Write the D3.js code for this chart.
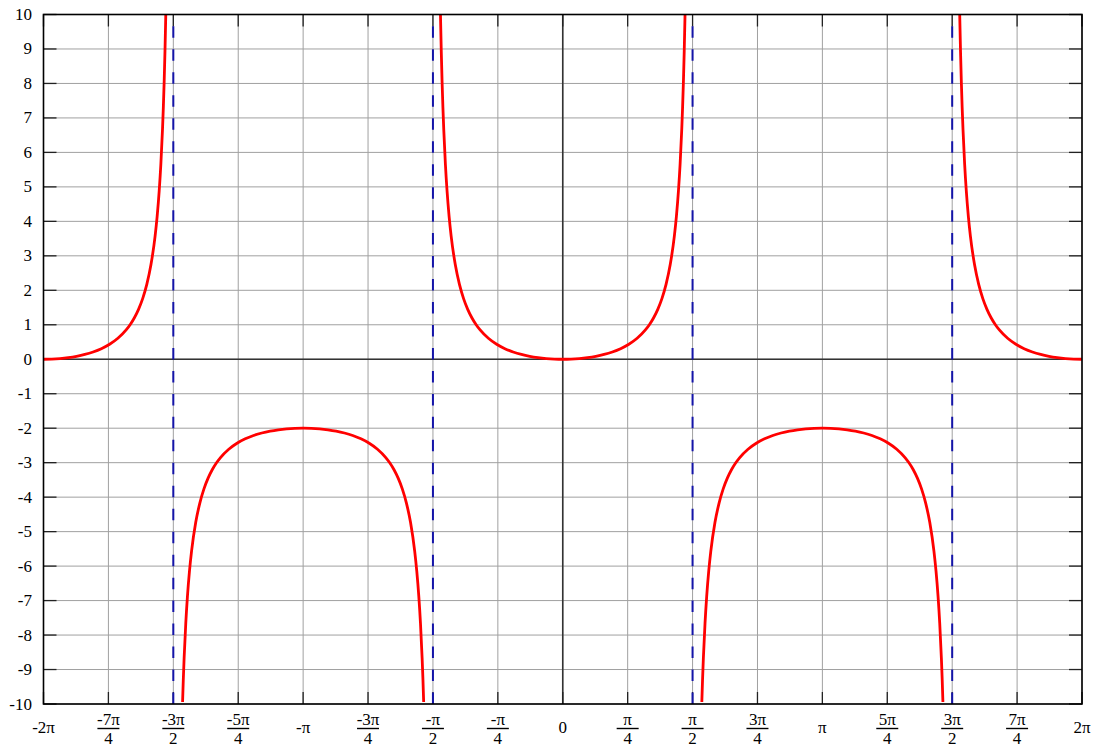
<!DOCTYPE html>
<html>
<head>
<meta charset="utf-8">
<script src="https://cdn.jsdelivr.net/npm/d3@7/dist/d3.min.js"></script>
<style>
  html, body { margin: 0; padding: 0; background: #ffffff; }
  svg { display: block; }
</style>
</head>
<body>
<script>
const PI = Math.PI;
// x tick positions (multiples of pi/4) and their labels [numerator, denominator]
const xTickUnits = [-8, -7, -6, -5, -4, -3, -2, -1, 0, 1, 2, 3, 4, 5, 6, 7, 8]; // in quarters of pi
const xTickLabels = [
  ["-2π", null], ["-7π", "4"], ["-3π", "2"], ["-5π", "4"], ["-π", null], ["-3π", "4"], ["-π", "2"], ["-π", "4"],
  ["0", null], ["π", "4"], ["π", "2"], ["3π", "4"], ["π", null], ["5π", "4"], ["3π", "2"], ["7π", "4"], ["2π", null]
];
const yTicks = [-10, -9, -8, -7, -6, -5, -4, -3, -2, -1, 0, 1, 2, 3, 4, 5, 6, 7, 8, 9, 10];

// Curve samples: offset (radians) from each branch centre
const offsets = [0, 0.1, 0.2, 0.3, 0.4, 0.5, 0.6, 0.7, 0.8, 0.9, 1.0, 1.05, 1.1, 1.15, 1.2, 1.25, 1.3, 1.35, 1.375, 1.4, 1.42, 1.44, 1.45, 1.46, 1.47, 1.48, 1.5];
const upperValues = [0, 0.0050, 0.0203, 0.0468, 0.0857, 0.1395, 0.2116, 0.3075, 0.4353, 0.6087, 0.8508, 1.0098, 1.2046, 1.4481, 1.7597, 2.1714, 2.7383, 3.5661, 4.1401, 4.8835, 5.6567, 6.6673, 7.2986, 8.0441, 8.9379, 10.0289, 13.137];
const lowerValues = [-2, -2.0050, -2.0203, -2.0468, -2.0857, -2.1395, -2.2116, -2.3075, -2.4353, -2.6087, -2.8508, -3.0098, -3.2046, -3.4481, -3.7597, -4.1714, -4.7383, -5.5661, -6.1401, -6.8835, -7.6567, -8.6673, -9.2986, -10.0441, -10.9379, -12.0289, -15.137];
// branch centres (in multiples of pi) and which shape each one has
const branchCenters = [-2, -1, 0, 1, 2];
const branchKinds = ["upper", "lower", "upper", "lower", "upper"];
// vertical asymptotes (multiples of pi/2)
const asymptoteUnits = [-3, -1, 1, 3];

const W = 1100, H = 754;
const m = { left: 43.5, right: 1082, top: 14.5, bottom: 704 };
const FONT = "'Liberation Serif', 'Times New Roman', Times, 'DejaVu Serif', serif";

const x = d3.scaleLinear().domain([-2 * PI, 2 * PI]).range([m.left, m.right]);
const y = d3.scaleLinear().domain([-10, 10]).range([m.bottom, m.top]);

const svg = d3.select("body").append("svg").attr("width", W).attr("height", H)
  .style("font-family", FONT).style("font-size", "17px");

svg.append("defs").append("clipPath").attr("id", "plotclip")
  .append("rect").attr("x", m.left).attr("y", m.top)
  .attr("width", m.right - m.left).attr("height", m.bottom - 2 - m.top);

// grid
const grid = svg.append("g");
grid.selectAll("line.vg").data(xTickUnits).join("line")
  .attr("x1", d => x(d * PI / 4)).attr("x2", d => x(d * PI / 4))
  .attr("y1", m.top).attr("y2", m.bottom)
  .attr("stroke", "#a0a0a0").attr("stroke-width", 1);
grid.selectAll("line.hg").data(yTicks).join("line")
  .attr("x1", m.left).attr("x2", m.right)
  .attr("y1", d => y(d)).attr("y2", d => y(d))
  .attr("stroke", "#a0a0a0").attr("stroke-width", 1);

// zero axes
svg.append("line").attr("x1", x(0)).attr("x2", x(0)).attr("y1", m.top).attr("y2", m.bottom)
  .attr("stroke", "#333").attr("stroke-width", 1.6);
svg.append("line").attr("x1", m.left).attr("x2", m.right).attr("y1", y(0)).attr("y2", y(0))
  .attr("stroke", "#333").attr("stroke-width", 1.6);

// ticks (inner)
const ticks = svg.append("g").attr("stroke", "#222").attr("stroke-width", 1.3);
xTickUnits.forEach(u => {
  const xx = x(u * PI / 4);
  ticks.append("line").attr("x1", xx).attr("x2", xx).attr("y1", m.bottom).attr("y2", m.bottom - 12);
  ticks.append("line").attr("x1", xx).attr("x2", xx).attr("y1", m.top).attr("y2", m.top + 12);
});
yTicks.forEach(v => {
  const yy = y(v);
  ticks.append("line").attr("x1", m.left).attr("x2", m.left + 13).attr("y1", yy).attr("y2", yy);
  ticks.append("line").attr("x1", m.right).attr("x2", m.right - 13).attr("y1", yy).attr("y2", yy);
});

// asymptotes (dashes laid out from the bottom up)
svg.append("g").selectAll("line").data(asymptoteUnits).join("line")
  .attr("x1", d => x(d * PI / 2)).attr("x2", d => x(d * PI / 2))
  .attr("y1", m.bottom).attr("y2", m.top)
  .attr("stroke", "#1414a8").attr("stroke-width", 2)
  .attr("stroke-dasharray", "11.5,11.47");

// curve branches
const line = d3.line().x(d => x(d[0])).y(d => y(d[1])).curve(d3.curveMonotoneX);
const curveG = svg.append("g").attr("clip-path", "url(#plotclip)");
branchCenters.forEach((c, i) => {
  const vals = branchKinds[i] === "upper" ? upperValues : lowerValues;
  const pts = [];
  for (let k = offsets.length - 1; k > 0; k--) pts.push([c * PI - offsets[k], vals[k]]);
  for (let k = 0; k < offsets.length; k++) pts.push([c * PI + offsets[k], vals[k]]);
  const inside = pts.filter(p => p[0] >= -2 * PI - 1e-9 && p[0] <= 2 * PI + 1e-9);
  curveG.append("path").datum(inside).attr("d", line)
    .attr("fill", "none").attr("stroke", "#ff0000").attr("stroke-width", 2.8);
});

// frame
svg.append("rect").attr("x", m.left).attr("y", m.top)
  .attr("width", m.right - m.left).attr("height", m.bottom - m.top)
  .attr("fill", "none").attr("stroke", "#000").attr("stroke-width", 1.6);

// y labels
svg.append("g").selectAll("text").data(yTicks).join("text")
  .attr("x", 32).attr("y", d => y(d)).attr("text-anchor", "end")
  .attr("dominant-baseline", "central")
  .attr("font-family", FONT).attr("font-size", 17).attr("fill", "#000")
  .text(d => d);

// x labels
const xl = svg.append("g").attr("font-family", FONT).attr("font-size", 17).attr("fill", "#000");
xTickUnits.forEach((u, i) => {
  const xx = x(u * PI / 4);
  const [num, den] = xTickLabels[i];
  if (den === null) {
    xl.append("text").attr("x", xx).attr("y", 733).attr("text-anchor", "middle").text(num);
  } else {
    xl.append("text").attr("x", xx).attr("y", 725).attr("text-anchor", "middle").text(num);
    xl.append("line").attr("x1", xx - 11).attr("x2", xx + 11).attr("y1", 728.5).attr("y2", 728.5)
      .attr("stroke", "#000").attr("stroke-width", 1.4);
    xl.append("text").attr("x", xx).attr("y", 743.5).attr("text-anchor", "middle").text(den);
  }
});
</script>
</body>
</html>
